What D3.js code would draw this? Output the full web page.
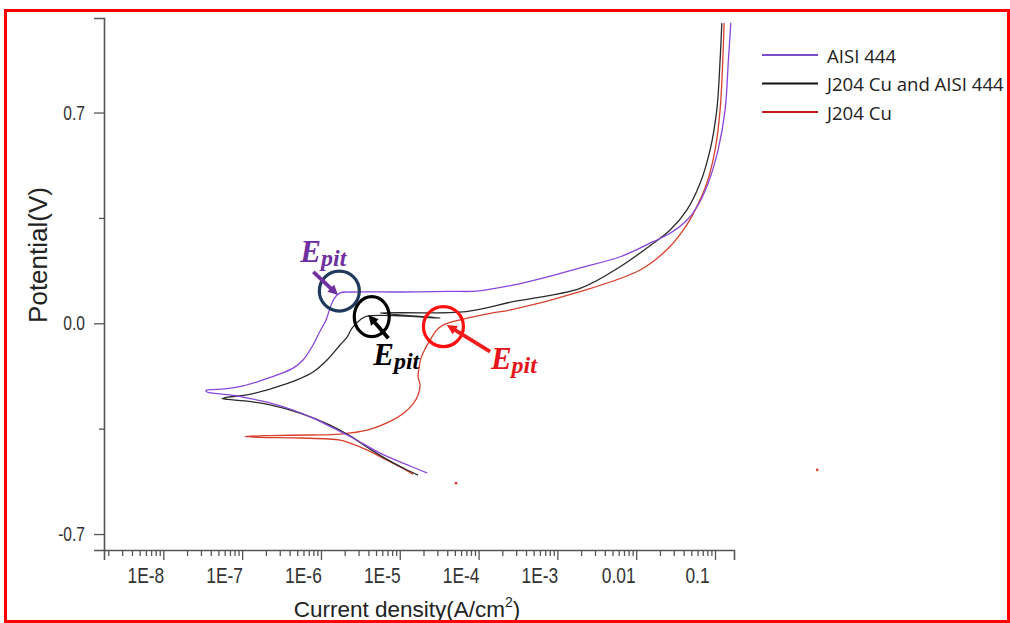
<!DOCTYPE html>
<html><head><meta charset="utf-8">
<script src="https://cdn.jsdelivr.net/npm/d3@7"></script>
<style>html,body{margin:0;padding:0;background:#fff;overflow:hidden}</style>
</head><body><svg id="chart" width="1010" height="623"></svg>
<script>
// ---------------- data ----------------
const seriesNames = ["AISI 444", "J204 Cu and AISI 444", "J204 Cu"];
const seriesColors = ["#8a45dc", "#2a2a2a", "#d8402c"];
const legendColors = ["#7a4cc8", "#111111", "#c41e1a"];

// AISI 444 : current density (A/cm2) and potential (V)
const aisiCurrent = [2.22e-5, 1.35e-5, 5.62e-6, 2.555e-6, 1.51e-6, 7.93e-7, 4.43e-7, 2.07e-7, 1.153e-7, 7.02e-8,
  4.53e-8, 3.585e-8, 3.48e-8, 4.15e-8, 6.07e-8, 1.027e-7, 1.842e-7, 3.03e-7, 4.43e-7, 5.93e-7,
  7.93e-7, 9.46e-7, 1.16e-6, 1.305e-6, 1.466e-6, 1.748e-6, 2.34e-6, 1.009e-5, 4.35e-5, 9.57e-5,
  2.74e-4, 7.40e-4, 1.94e-3, 6.25e-3, 0.01639, 0.02693, 0.04426, 0.05928, 0.08177, 0.1095,
  0.1343, 0.148, 0.1587];
const aisiPotential = [-0.497, -0.474, -0.431, -0.381, -0.351, -0.315, -0.288, -0.262, -0.248, -0.238,
  -0.233, -0.228, -0.223, -0.220, -0.218, -0.208, -0.188, -0.168, -0.149, -0.122,
  -0.072, -0.032, 0.011, 0.051, 0.081, 0.101, 0.104, 0.104, 0.106, 0.107,
  0.127, 0.154, 0.184, 0.221, 0.271, 0.299, 0.343, 0.387, 0.465, 0.576,
  0.709, 0.875, 0.998];

// J204 Cu and AISI 444
const mixCurrent = [1.707e-5, 1.168e-5, 7.53e-6, 4.20e-6, 2.34e-6, 1.305e-6, 5.43e-7, 2.26e-7, 1.088e-7, 6.62e-8,
  5.56e-8, 6.62e-8, 1.153e-7, 2.47e-7, 4.97e-7, 7.93e-7, 1.195e-6, 1.748e-6, 2.144e-6, 2.48e-6,
  3.13e-6, 3.85e-6, 3.25e-5, 5.62e-6, 6.94e-5, 2.74e-4, 1.94e-3, 6.25e-3, 0.01654, 0.02693,
  0.04386, 0.06471, 0.08666, 0.1054, 0.1161, 0.1220];
const mixPotential = [-0.504, -0.484, -0.458, -0.418, -0.374, -0.338, -0.298, -0.271, -0.258, -0.253,
  -0.250, -0.245, -0.238, -0.215, -0.188, -0.162, -0.122, -0.072, -0.046, -0.016,
  0.011, 0.024, 0.018, 0.034, 0.039, 0.072, 0.116, 0.188, 0.266, 0.310,
  0.376, 0.465, 0.576, 0.709, 0.875, 0.997];

// J204 Cu
const cuCurrent = [1.475e-5, 1.009e-5, 6.51e-6, 3.63e-6, 2.34e-6, 1.748e-6, 5.43e-7, 1.687e-7, 1.088e-7, 2.26e-7,
  7.27e-7, 1.748e-6, 3.85e-6, 8.22e-6, 1.168e-5, 1.475e-5, 1.707e-5, 1.81e-5, 1.707e-5, 1.757e-5,
  1.863e-5, 2.095e-5, 2.424e-5, 2.948e-5, 3.544e-5, 4.35e-5, 7.14e-5, 1.40e-4, 2.74e-4, 1.94e-3,
  0.0112, 0.02445, 0.03972, 0.05591, 0.07871, 0.1003, 0.1161, 0.1256, 0.1304];
const cuPotential = [-0.501, -0.477, -0.451, -0.418, -0.398, -0.388, -0.381, -0.379, -0.376, -0.373,
  -0.371, -0.368, -0.355, -0.321, -0.295, -0.268, -0.238, -0.205, -0.178, -0.149,
  -0.115, -0.085, -0.056, -0.022, -0.006, 0.003, 0.017, 0.033, 0.046, 0.105,
  0.177, 0.244, 0.310, 0.376, 0.465, 0.576, 0.709, 0.875, 0.997];

// stray red points of the J204 Cu record
const strayCurrent = [5.18e-5, 1.98];
const strayPotential = [-0.531, -0.487];

// pitting potentials (circle centres)
const epitCurrent = [1.71e-6, 4.41e-6, 3.58e-5];
const epitPotential = [0.107, 0.022, -0.011];

// axis ticks
const xTickValues = [1e-8, 1e-7, 1e-6, 1e-5, 1e-4, 1e-3, 0.01, 0.1];
const xTickLabels = ["1E-8", "1E-7", "1E-6", "1E-5", "1E-4", "1E-3", "0.01", "0.1"];
const yTickValues = [-0.7, 0.0, 0.7];
const yTickLabels = ["-0.7", "0.0", "0.7"];
const yMinorValues = [-0.35, 0.35];
const xTitle = "Current density(A/cm";
const yTitle = "Potential(V)";

// ---------------- drawing ----------------
const svg = d3.select("#chart");
svg.append("rect").attr("width", 1010).attr("height", 623).attr("fill", "#fff");

const x = d3.scaleLog().domain([1.766e-9, 0.1742]).range([104, 734]);
const y = d3.scaleLinear().domain([-0.753, 1.014]).range([550, 18]);
const axisColor = "#555";
const labelColor = "#333";

// minor x ticks
const minorX = [];
for (let e = -9; e <= -1; e++) for (let m = 2; m <= 9; m++) {
  const v = m * Math.pow(10, e);
  if (v >= x.domain()[0] && v <= x.domain()[1]) minorX.push(v);
}

const gxMinor = svg.append("g").attr("transform", "translate(0,550)")
  .call(d3.axisBottom(x).tickValues(minorX).tickSize(6).tickFormat(""));
gxMinor.select(".domain").remove();
const gx = svg.append("g").attr("transform", "translate(0,550)")
  .call(d3.axisBottom(x).tickValues(xTickValues).tickSize(10).tickPadding(7)
    .tickFormat((d, i) => xTickLabels[i]));
[gxMinor, gx].forEach(g => {
  g.selectAll("line").attr("stroke", axisColor).attr("stroke-width", 1.3);
});
gx.select(".domain").attr("stroke", axisColor).attr("stroke-width", 1.6);
gx.selectAll("text").attr("fill", labelColor)
  .style("font-family", "'Liberation Sans', Arial, sans-serif").style("font-size", "22px")
  .attr("transform", "translate(-18,0) scale(0.79,1)");

const gyMinor = svg.append("g").attr("transform", "translate(104,0)")
  .call(d3.axisLeft(y).tickValues(yMinorValues).tickSize(5).tickFormat(""));
gyMinor.select(".domain").remove();
const gy = svg.append("g").attr("transform", "translate(104,0)")
  .call(d3.axisLeft(y).tickValues(yTickValues).tickSize(10).tickPadding(9)
    .tickFormat((d, i) => yTickLabels[i]));
[gyMinor, gy].forEach(g => {
  g.selectAll("line").attr("stroke", axisColor).attr("stroke-width", 1.3);
});
gy.select(".domain").attr("stroke", axisColor).attr("stroke-width", 1.6);
gy.selectAll("text").attr("fill", labelColor)
  .style("font-family", "'Liberation Sans', Arial, sans-serif").style("font-size", "20.5px")
  .attr("x", -19 / 0.76).attr("transform", "scale(0.76,1)");

// axis titles
const xt = svg.append("text").attr("x", 407).attr("y", 617).attr("text-anchor", "middle")
  .attr("fill", "#222").style("font-family", "'Liberation Sans', Arial, sans-serif").style("font-size", "22.5px");
xt.append("tspan").text(xTitle);
xt.append("tspan").attr("dy", -10).style("font-size", "14px").text("2");
xt.append("tspan").attr("dy", 10).text(")");

svg.append("text").attr("transform", "translate(47,255) rotate(-90)").attr("text-anchor", "middle")
  .attr("fill", "#222").style("font-family", "'Liberation Sans', Arial, sans-serif").style("font-size", "26px")
  .text(yTitle);

// curves
const series = [
  { c: aisiCurrent, p: aisiPotential },
  { c: mixCurrent, p: mixPotential },
  { c: cuCurrent, p: cuPotential }
];
const line = d3.line().x(d => x(d[0])).y(d => y(d[1])).curve(d3.curveCatmullRom.alpha(0.5));
// draw order: red, black, purple on top
[2, 1, 0].forEach(k => {
  const s = series[k];
  const pts = s.c.map((v, i) => [v, s.p[i]]);
  svg.append("path").datum(pts).attr("d", line).attr("fill", "none")
    .attr("stroke", seriesColors[k]).attr("stroke-width", 1.3).attr("stroke-linejoin", "round");
});
svg.selectAll(".stray").data(strayCurrent).enter().append("circle")
  .attr("cx", d => x(d)).attr("cy", (d, i) => y(strayPotential[i])).attr("r", 1.3)
  .attr("fill", seriesColors[2]);

// legend
const legend = svg.append("g");
seriesNames.forEach((name, i) => {
  const ly = 55 + i * 28.5;
  legend.append("line").attr("x1", 762).attr("x2", 818).attr("y1", ly).attr("y2", ly)
    .attr("stroke", legendColors[i]).attr("stroke-width", 2);
  legend.append("text").attr("x", 827).attr("y", ly).attr("dominant-baseline", "central")
    .attr("fill", "#222").style("font-family", "'Open Sans', sans-serif").style("font-size", "18.6px")
    .text(name);
});

// E_pit annotations
const annStyles = [
  { circle: "#1f3a5c", text: "#7030a0", arrow: "#7030a0", rx: 20, ry: 20, a0: [-26, -19.3], a1: [-1.3, 4], t: [-39, -29] },
  { circle: "#000000", text: "#000000", arrow: "#000000", rx: 17.5, ry: 20, a0: [16.6, 21.6], a1: [-3.4, -1.7], t: [1.5, 48] },
  { circle: "#ff1010", text: "#e8141b", arrow: "#ee1c1c", rx: 20, ry: 20, a0: [46.7, 25], a1: [3.4, -1.7], t: [47.5, 42] }
];
const defs = svg.append("defs");
annStyles.forEach((st, i) => {
  defs.append("marker").attr("id", "ah" + i).attr("viewBox", "0 0 10 10").attr("refX", 10).attr("refY", 5)
    .attr("markerWidth", 11).attr("markerHeight", 10).attr("markerUnits", "userSpaceOnUse").attr("orient", "auto")
    .append("path").attr("d", "M0,0 L10,5 L0,10 Z").attr("fill", st.arrow);
});
epitCurrent.forEach((c, i) => {
  const st = annStyles[i];
  const cx = x(c), cy = y(epitPotential[i]);
  svg.append("ellipse").attr("cx", cx).attr("cy", cy).attr("rx", st.rx).attr("ry", st.ry)
    .attr("fill", "none").attr("stroke", st.circle).attr("stroke-width", 3.2);
  const sx = cx + st.a0[0], sy = cy + st.a0[1], ex = cx + st.a1[0], ey = cy + st.a1[1];
  const len = Math.hypot(ex - sx, ey - sy);
  const ux = (ex - sx) / len, uy = (ey - sy) / len;
  svg.append("line").attr("x1", sx).attr("y1", sy).attr("x2", ex - ux * 7).attr("y2", ey - uy * 7)
    .attr("stroke", st.arrow).attr("stroke-width", 3.8);
  svg.append("line").attr("x1", ex - ux * 8).attr("y1", ey - uy * 8).attr("x2", ex).attr("y2", ey)
    .attr("stroke", st.arrow).attr("stroke-width", 0.1).attr("marker-end", "url(#ah" + i + ")");
  const t = svg.append("text").attr("x", cx + st.t[0]).attr("y", cy + st.t[1]).attr("fill", st.text)
    .style("font-family", "'Liberation Serif', 'DejaVu Serif', serif").style("font-weight", "bold")
    .style("font-style", "italic").style("font-size", "31px");
  t.append("tspan").text("E");
  t.append("tspan").attr("dy", 4).style("font-size", "24px").text("pit");
});

// outer red frame
svg.append("rect").attr("x", 5.5).attr("y", 10.5).attr("width", 1003).attr("height", 611)
  .attr("fill", "none").attr("stroke", "#ff0000").attr("stroke-width", 3);
</script>
</body></html>
